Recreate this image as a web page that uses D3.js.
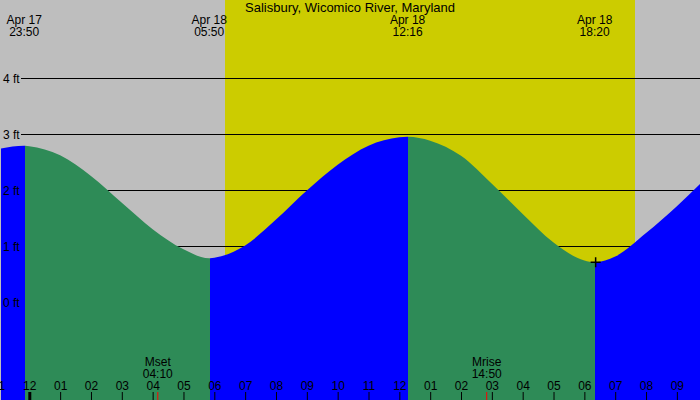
<!DOCTYPE html>
<html>
<head>
<meta charset="utf-8">
<script src="https://cdn.jsdelivr.net/npm/d3@7/dist/d3.min.js"></script>
<style>
  html, body { margin: 0; padding: 0; background: #fff; }
  svg { display: block; font-family: 'Liberation Sans', Arial, sans-serif; }
</style>
</head>
<body>
<div id="tide_chart"></div>
<script>
const parseTime = d3.timeParse('%Y-%m-%d %H:%M')

// Tide heights (ft)
const tideTimes = [
  '2024-04-17 23:00', '2024-04-17 23:50', '2024-04-18 00:00', '2024-04-18 01:00',
  '2024-04-18 02:00', '2024-04-18 03:00', '2024-04-18 04:00', '2024-04-18 05:00',
  '2024-04-18 05:50', '2024-04-18 06:00', '2024-04-18 07:00', '2024-04-18 08:00',
  '2024-04-18 09:00', '2024-04-18 10:00', '2024-04-18 11:00', '2024-04-18 12:00',
  '2024-04-18 12:16', '2024-04-18 13:00', '2024-04-18 14:00', '2024-04-18 15:00',
  '2024-04-18 16:00', '2024-04-18 17:00', '2024-04-18 18:00', '2024-04-18 18:20',
  '2024-04-18 19:00', '2024-04-18 20:00', '2024-04-18 21:00', '2024-04-18 22:00'
]
const tideHeights = [
  2.74, 2.80, 2.79, 2.63,
  2.26, 1.78, 1.31, 0.95,
  0.79, 0.80, 1.02, 1.48,
  2.00, 2.46, 2.80, 2.95,
  2.96, 2.89, 2.62, 2.12,
  1.58, 1.07, 0.75, 0.72,
  0.82, 1.24, 1.72, 2.25
]

// High / low tide events
const extremeTimes = ['2024-04-17 23:50', '2024-04-18 05:50', '2024-04-18 12:16', '2024-04-18 18:20']
const extremeDays = ['Apr 17', 'Apr 18', 'Apr 18', 'Apr 18']
const extremeClock = ['23:50', '05:50', '12:16', '18:20']
const extremeHeights = [2.80, 0.79, 2.96, 0.72]

// Sun and moon
const sunrise = '2024-04-18 06:21'
const sunset = '2024-04-18 19:39'
const moonNames = ['Mset', 'Mrise']
const moonTimes = ['2024-04-18 04:10', '2024-04-18 14:50']
const moonClock = ['04:10', '14:50']

const heightTicks = [0, 1, 2, 3, 4]
const viewStart = '2024-04-17 23:03'
const viewEnd = '2024-04-18 21:45'

const title = 'Salisbury, Wicomico River, Maryland'

const width = 700
const height = 400

const data = tideTimes.map((t, i) => ({ date: parseTime(t), h: tideHeights[i] }))
const extremes = extremeTimes.map((t, i) => ({
  date: parseTime(t), day: extremeDays[i], clock: extremeClock[i], h: extremeHeights[i]
}))

const svg = d3.select('#tide_chart')
  .append('svg')
  .attr('width', width)
  .attr('height', height)

// Scales
const xScale = d3.scaleTime()
  .domain([parseTime(viewStart), parseTime(viewEnd)])
  .range([0, width])
const yScale = d3.scaleLinear()
  .domain([0, 4])
  .range([302.5, 78.5])

// Night background + daylight band
svg.append('rect')
  .attr('width', width)
  .attr('height', height)
  .attr('fill', '#bebebe')
svg.append('rect')
  .attr('x', Math.round(xScale(parseTime(sunrise))))
  .attr('width', Math.round(xScale(parseTime(sunset))) - Math.round(xScale(parseTime(sunrise))))
  .attr('height', height)
  .attr('fill', '#cccc00')

// Height gridlines (under the water)
svg.append('g')
  .selectAll('line')
  .data(heightTicks)
  .join('line')
  .attr('x1', 21)
  .attr('x2', width)
  .attr('y1', d => yScale(d))
  .attr('y2', d => yScale(d))
  .attr('stroke', '#000')
  .attr('shape-rendering', 'crispEdges')

// Tide area, split into rising (blue) and falling (green) pieces
const tideArea = d3.area()
  .x(d => xScale(d.date))
  .y0(height)
  .y1(d => yScale(d.h))
  .curve(d3.curveMonotoneX)

const bounds = [xScale.domain()[0], ...extremes.map(d => d.date), xScale.domain()[1]]
const segments = d3.pairs(bounds).map(([a, b], i) => {
  let rising
  if (i < extremes.length) rising = extremes[i].h > (extremes[i + 1] || extremes[i - 1]).h
  else rising = extremes[i - 1].h < extremes[i - 2].h
  return { x0: Math.round(xScale(a) + 0.5), x1: Math.round(xScale(b) + 0.5), rising }
})

const defs = svg.append('defs')
segments.forEach((s, i) => {
  defs.append('clipPath')
    .attr('id', `seg${i}`)
    .append('rect')
    .attr('x', s.x0)
    .attr('y', 0)
    .attr('width', s.x1 - s.x0)
    .attr('height', height)
})

svg.append('g')
  .selectAll('path')
  .data(segments)
  .join('path')
  .attr('clip-path', (d, i) => `url(#seg${i})`)
  .attr('fill', d => d.rising ? '#0000ff' : '#2e8b57')
  .attr('d', tideArea(data))

// Height labels
svg.append('g')
  .selectAll('text')
  .data(heightTicks)
  .join('text')
  .attr('x', 3)
  .attr('y', d => yScale(d))
  .attr('dy', '0.35em')
  .attr('font-size', 12)
  .text(d => `${d} ft`)

// Title
svg.append('text')
  .attr('x', width / 2)
  .attr('y', 12)
  .attr('text-anchor', 'middle')
  .attr('font-size', 13)
  .text(title)

// High / low labels along the top
const extremeLabels = svg.append('g')
  .selectAll('g')
  .data(extremes)
  .join('g')
  .attr('transform', d => `translate(${xScale(d.date)},0)`)
  .attr('font-size', 12)
  .attr('text-anchor', 'middle')
extremeLabels.append('text').attr('y', 24).text(d => d.day)
extremeLabels.append('text').attr('y', 36).text(d => d.clock)

// Moon labels
const moon = moonNames.map((n, i) => ({ name: n, date: parseTime(moonTimes[i]), clock: moonClock[i] }))
const moonLabels = svg.append('g')
  .selectAll('g')
  .data(moon)
  .join('g')
  .attr('transform', d => `translate(${xScale(d.date)},0)`)
  .attr('font-size', 12)
  .attr('text-anchor', 'middle')
moonLabels.append('text').attr('y', 366).text(d => d.name)
moonLabels.append('text').attr('y', 378).text(d => d.clock)

// Hour axis - labels sit above the ticks
const hours = d3.timeHour.range(d3.timeHour.floor(xScale.domain()[0]), xScale.domain()[1])
const axis = svg.append('g')
  .attr('transform', `translate(0,${392})`)
  .call(d3.axisBottom(xScale)
    .tickValues(hours)
    .tickSize(8)
    .tickFormat(d3.timeFormat('%I')))
axis.select('.domain').remove()
axis.selectAll('text')
  .attr('y', -2)
  .attr('dy', 0)
  .attr('font-size', 12)
  .attr('font-family', "'Liberation Sans', Arial, sans-serif")
  .attr('fill', '#000')
axis.selectAll('line')
  .attr('stroke', '#000')
  .attr('stroke-width', d => d.getHours() === 0 ? 3 : 1)

// Moon event ticks
svg.append('g')
  .selectAll('line')
  .data(moon)
  .join('line')
  .attr('x1', d => xScale(d.date))
  .attr('x2', d => xScale(d.date))
  .attr('y1', 392)
  .attr('y2', height)
  .attr('stroke', '#ff0000')

// Marker on the last low tide
const last = extremes[extremes.length - 1]
svg.append('path')
  .attr('transform', `translate(${xScale(last.date) + 1},${yScale(last.h)})`)
  .attr('d', 'M-5,0H5M0,-5V5')
  .attr('stroke', '#000')
  .attr('stroke-width', 1.5)
</script>
</body>
</html>
